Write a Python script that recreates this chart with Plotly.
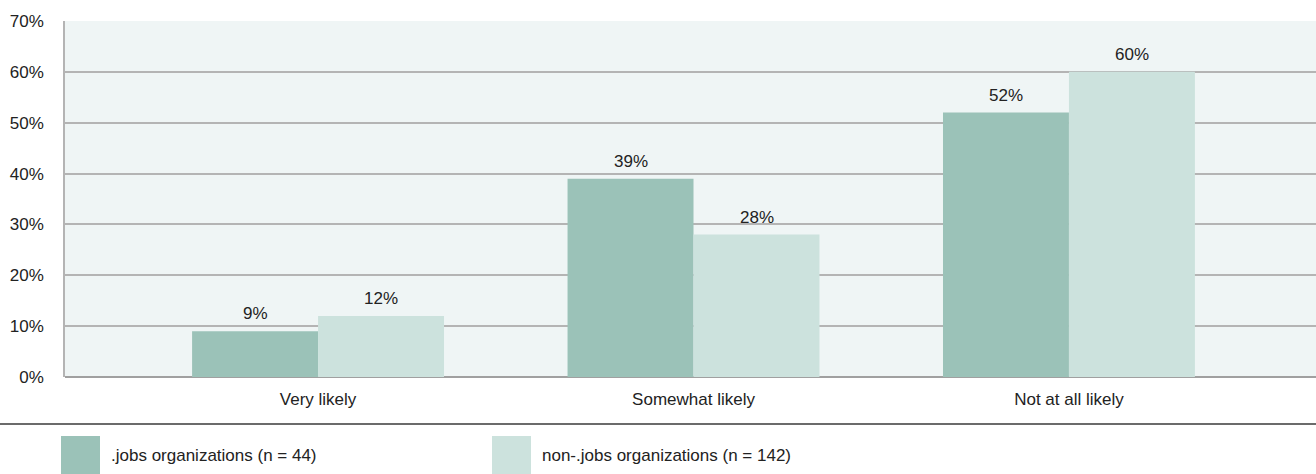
import plotly.graph_objects as go

categories = ["Very likely", "Somewhat likely", "Not at all likely"]
jobs_values = [9, 39, 52]
nonjobs_values = [12, 28, 60]
series_names = [".jobs organizations (n = 44)", "non-.jobs organizations (n = 142)"]
tick_values = [0, 10, 20, 30, 40, 50, 60, 70]
tick_labels = [f"{v}%" for v in tick_values]

colors = ["#9bc2b8", "#cce2dd"]
FONT = "Liberation Sans, Arial, sans-serif"
FS = 17

W, H = 1316, 474
L, R, T, B = 65, 0, 21, 97
pw, ph = W - L - R, H - T - B

def px_x(x):
    return (x - L) / pw

def px_y(y):
    return (H - B - y) / ph

fig = go.Figure()
for name, vals, col in zip(series_names, [jobs_values, nonjobs_values], colors):
    fig.add_trace(go.Bar(
        x=categories, y=vals, name=name, marker_color=col, marker_line_width=0,
        showlegend=False,
    ))

annotations = []
bar_px = 126
for shift, vals in zip([-bar_px / 2, bar_px / 2], [jobs_values, nonjobs_values]):
    for c, v in zip(categories, vals):
        annotations.append(dict(x=c, y=v, xref="x", yref="y", text=f"{v}%", showarrow=False,
                                xshift=shift, yshift=6, yanchor="bottom",
                                font=dict(size=FS, color="#222222", family=FONT)))

shapes = [dict(type="line", xref="paper", yref="paper", x0=px_x(0), x1=px_x(W), y0=px_y(424), y1=px_y(424),
               line=dict(color="#6b6b6b", width=2))]
leg_x = [61, 492]
for i, (name, col) in enumerate(zip(series_names, colors)):
    x0 = leg_x[i]
    shapes.append(dict(type="rect", xref="paper", yref="paper", x0=px_x(x0), x1=px_x(x0 + 39),
                       y0=px_y(474), y1=px_y(436), fillcolor=col, line_width=0))
    annotations.append(dict(xref="paper", yref="paper", x=px_x(x0 + 48), y=px_y(455), text=name,
                            showarrow=False, xanchor="left", yanchor="middle",
                            font=dict(size=FS, color="#222222", family=FONT)))

fig.update_layout(
    width=W, height=H, margin=dict(l=L, r=R, t=T, b=B),
    paper_bgcolor="white", plot_bgcolor="#eff5f5",
    barmode="group", bargap=0.329, bargroupgap=0,
    font=dict(family=FONT, size=FS, color="#222222"),
    shapes=shapes, annotations=annotations,
    xaxis=dict(range=[-0.674, 2.658], showgrid=False, ticks="", showline=False,
               tickfont=dict(size=FS, color="#222222"), ticklabelstandoff=10),
    yaxis=dict(range=[0, 70], tickvals=tick_values, ticktext=tick_labels,
               showgrid=True, gridcolor="#b4b4b4", gridwidth=1.5, zeroline=True,
               zerolinecolor="#a0a0a0", zerolinewidth=2,
               showline=True, linecolor="#b4b4b4", linewidth=1.5,
               ticks="", tickfont=dict(size=FS, color="#222222"), ticklabelstandoff=16),
)

fig.write_html("out.html")
